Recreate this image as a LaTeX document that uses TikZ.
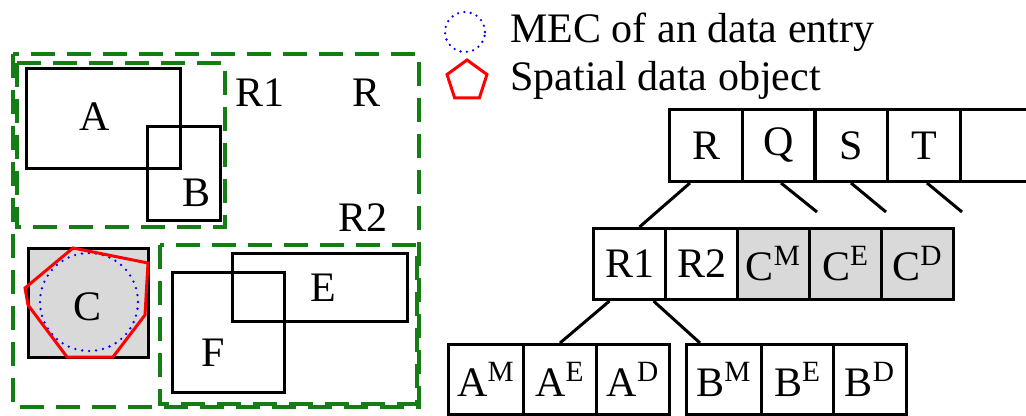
\documentclass[tikz,border=0pt]{standalone}
\usepackage{fontspec}
\setmainfont{LiberationSerif-Regular.ttf}
\usetikzlibrary{shapes.geometric}
\definecolor{mbrgreen}{RGB}{20,125,20}
\definecolor{cellgray}{RGB}{217,217,217}
\begin{document}
\begin{tikzpicture}[x=0.5pt, y=-0.5pt,
  every node/.style={font=\fontsize{21}{25}\selectfont, inner sep=0pt},
  mbr/.style={draw=mbrgreen, line width=2pt, dash pattern=on 12pt off 6pt},
  obj/.style={draw, line width=1.5pt},
  cell/.style={draw, line width=1.5pt, minimum height=36pt, minimum width=36.5pt, anchor=north west},
  link/.style={line width=1.5pt}]
  \useasboundingbox (0,0) rectangle (1026,416);
  % Bounding regions R, R1, R2
  \draw[mbr] (13,54) rectangle (419,407);
  \draw[mbr] (17,63) rectangle (225,227);
  \draw[mbr] (160,245) rectangle (417,404);
  \node (labR) at (367,93) {R};
  \node (labRa) at (260,93) {R1};
  \node (labRb) at (363,218) {R2};
  % Objects A and B
  \draw[obj] (26,69) rectangle (180,169);
  \draw[obj] (147,127) rectangle (220,221);
  \node (labA) at (95,117) {A};
  \node (labB) at (197,193) {B};
  % Object C with its MEC
  \draw[obj, fill=cellgray] (28,249) rectangle (148,357);
  \draw[blue, line width=1.3pt, line cap=round, dash pattern=on 0pt off 3.5pt] (89,302) circle[radius=24.5pt];
  \draw[red, line width=1.5pt] (25,288) -- (73,248) -- (148,263) -- (145,315) -- (113,357) -- (67,357) -- (28,305) -- cycle;
  \node (labC) at (88,307) {C};
  % Objects E and F
  \draw[obj] (232,254) rectangle (407,321);
  \draw[obj] (172,273) rectangle (284,392);
  \node (labE) at (323,288) {E};
  \node (labF) at (213,353) {F};
  % Legend
  \draw[blue, line width=1.3pt, line cap=round, dash pattern=on 0pt off 3.2pt] (465,32) circle[radius=10pt];
  \node[anchor=west] (legmec) at (510,32) {MEC of an data entry};
  \node[regular polygon, regular polygon sides=5, draw=red, line width=1.5pt, minimum size=21pt] (legobj) at (467,81) {};
  \node[anchor=west] (legspat) at (510,80) {Spatial data object};
  % Root node
  \node[cell] (rR) at (668,108) {R};
  \node[cell] (rQ) at (741,108) {Q};
  \node[cell] (rS) at (813,108) {S};
  \node[cell] (rT) at (886,108) {T};
  \node[cell, minimum width=45pt] (rX) at (959,108) {};
  % Node R
  \node[cell, minimum width=36pt, minimum height=35.5pt] (rRa) at (592,227) {R1};
  \node[cell, minimum width=36pt, minimum height=35.5pt] (rRb) at (664,227) {R2};
  \node[cell, minimum width=36pt, minimum height=35.5pt, fill=cellgray] (cM) at (736,227) {C\textsuperscript{M}};
  \node[cell, minimum width=36pt, minimum height=35.5pt, fill=cellgray] (cE) at (808,227) {C\textsuperscript{E}};
  \node[cell, minimum width=36pt, minimum height=35.5pt, fill=cellgray] (cD) at (880,227) {C\textsuperscript{D}};
  % Leaf entries
  \node[cell, minimum width=37.5pt, minimum height=35pt] (aM) at (447,343) {A\textsuperscript{M}};
  \node[cell, minimum height=35pt] (aE) at (522,343) {A\textsuperscript{E}};
  \node[cell, minimum height=35pt] (aD) at (595,343) {A\textsuperscript{D}};
  \node[cell, minimum width=37.5pt, minimum height=35pt] (bM) at (685,343) {B\textsuperscript{M}};
  \node[cell, minimum width=36pt, minimum height=35pt] (bE) at (760,343) {B\textsuperscript{E}};
  \node[cell, minimum height=35pt] (bD) at (832,343) {B\textsuperscript{D}};
  % Links
  \coordinate (qEnd) at (817,212);
  \coordinate (sEnd) at (886,212);
  \coordinate (tEnd) at (962,212);
  \draw[link] ([xshift=-8pt]rR.south) -- ([xshift=5pt]rRa.north);
  \draw[link] ([xshift=1pt]rQ.south) -- (qEnd);
  \draw[link] (rS.south) -- (sEnd);
  \draw[link] ([xshift=1.5pt]rT.south) -- (tEnd);
  \draw[link] ([xshift=-10pt]rRa.south) -- (aE.north);
  \draw[link] ([xshift=12pt]rRa.south) -- ([xshift=-12pt]bM.north);
\end{tikzpicture}
\end{document}
